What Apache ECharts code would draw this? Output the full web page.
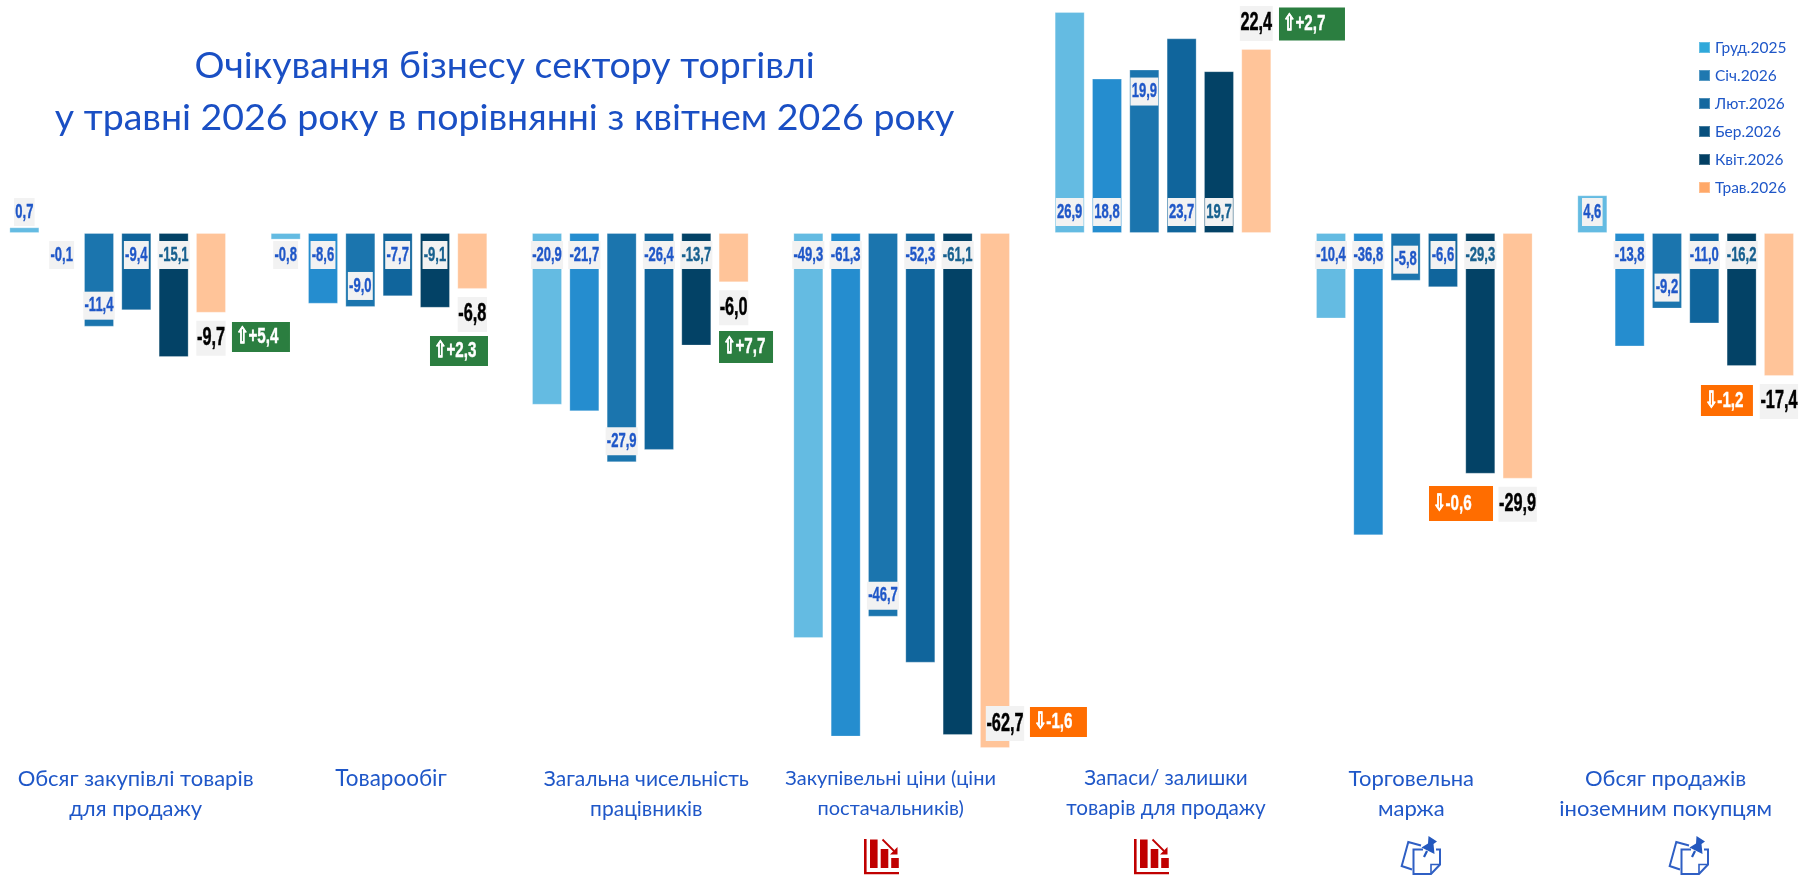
<!DOCTYPE html>
<html><head><meta charset="utf-8">
<style>html,body{margin:0;padding:0;background:#fff}#c{width:1802px;height:877px}</style>
<script src="https://cdn.jsdelivr.net/npm/echarts@6/dist/echarts.min.js"></script>
</head><body><div id="c"></div>
<script>
const categories = ['Обсяг закупівлі товарів\nдля продажу','Товарообіг','Загальна чисельність\nпрацівників','Закупівельні ціни (ціни\nпостачальників)','Запаси/ залишки\nтоварів для продажу','Торговельна\nмаржа','Обсяг продажів\nіноземним покупцям'];
const seriesNames = ['Груд.2025','Січ.2026','Лют.2026','Бер.2026','Квіт.2026','Трав.2026'];
const dec2025 = [0.7,-0.8,-20.9,-49.3,26.9,-10.4,4.6];
const jan2026 = [-0.1,-8.6,-21.7,-61.3,18.8,-36.8,-13.8];
const feb2026 = [-11.4,-9.0,-27.9,-46.7,19.9,-5.8,-9.2];
const mar2026 = [-9.4,-7.7,-26.4,-52.3,23.7,-6.6,-11.0];
const apr2026 = [-15.1,-9.1,-13.7,-61.1,19.7,-29.3,-16.2];
const may2026 = [-9.7,-6.8,-6.0,-62.7,22.4,-29.9,-17.4];
const deltas = [5.4,2.3,7.7,-1.6,2.7,-0.6,-1.2];

const allValues = [dec2025,jan2026,feb2026,mar2026,apr2026,may2026];
const barColors = ['#64BBE2','#258DCF','#1B75AE','#10659C','#034266','#FFC499'];
const legendColors = ['#2FA8DA','#1F78B0','#14689F','#07507E','#023F63','#FFA868'];
const BLUE='#1F57C8', FONT='Lato, "Noto Sans", sans-serif', NARROW='"Liberation Sans", sans-serif';
const PITCH=37.33;
const fmt=v=>v.toFixed(1).replace('.',',');

const chart=echarts.init(document.getElementById('c'));
const series=allValues.map((vals,s)=>({
  name:seriesNames[s],type:'bar',barWidth:30,barGap:'24.4%',
  itemStyle:{color:barColors[s],borderColor:'rgba(255,255,255,0.25)',borderWidth:1},
  data:vals
}));

// value labels: condensed face obtained by scaling the text horizontally
const labelData=[];
allValues.forEach((vals,s)=>vals.forEach((v,c)=>labelData.push([c,v,s])));
series.push({type:'custom',silent:true,z:6,data:labelData,encode:{x:0,y:1},
  renderItem:(p,api)=>{
    const c=api.value(0),v=api.value(1),s=api.value(2);
    const zero=api.coord([c,0]),end=api.coord([c,v]);
    const x=zero[0]+(s-2.5)*PITCH;
    let y,dx=0;
    if(s===5){
      if(c===3){y=end[1]-24.5;dx=10;}
      else y=end[1]+(v>=0?-25.5:25.5);
      return {type:'text',x:x+dx,y,scaleX:.65,style:{x:0,y:0,text:fmt(v),align:'center',verticalAlign:'middle',fill:'#000',stroke:'#000',lineWidth:.5,font:'bold 25px '+NARROW,lineHeight:35,backgroundColor:'#F2F2F2',padding:[0,1]}};
    }
    if(s===2&&c===4) y=end[1]+22;
    else if(s===2&&v<0) y=end[1]-21;
    else y=zero[1]+(v>=0?-21:22);
    const col=s===4?'#17608F':BLUE;
    return {type:'text',x,y,scaleX:.62,style:{x:0,y:0,text:fmt(v),align:'center',verticalAlign:'middle',fill:col,stroke:col,lineWidth:.4,font:'bold 21px '+NARROW,lineHeight:28,backgroundColor:'#F2F2F2',padding:[0,2]}};
  }});

// change badges: offset from the May bar end, box size
const badgeDx=[143.3,80,105.7,156.8,149,36.7,41.3];
const badgeDy=[24.3,62.1,64.7,-26.1,-25,24.9,24.6];
const badgeW=[58,58,54,57,66,64,52];
const badgeH=[30,30,32,30,33,35,31];
series.push({type:'custom',silent:true,z:5,data:deltas.map((d,i)=>[i,may2026[i],d]),encode:{x:0,y:1},
  renderItem:(p,api)=>{
    const i=api.value(0),d=api.value(2),c=api.coord([i,api.value(1)]);
    const cx=c[0]+badgeDx[i],cy=c[1]+badgeDy[i],w=badgeW[i],h=badgeH[i];
    return {type:'group',children:[
      {type:'rect',shape:{x:cx-w/2,y:cy-h/2,width:w,height:h},style:{fill:d>0?'#2B7E40':'#FF6D00'}},
      {type:'text',x:cx-w/2+4,y:cy,scaleX:.69,style:{x:0,y:0,align:'left',verticalAlign:'middle',text:(d>0?'⇧+':'⇩')+fmt(d),fill:'#fff',stroke:'#fff',lineWidth:.4,font:'bold 22px '+NARROW}}
    ]};
  }});

const shift=[18,12,6,-11,3,-13,-20];
const catFont=[22,22.5,21,20,20.7,22,22];
const rich={};shift.forEach((s,i)=>{rich['a'+i]={fontFamily:FONT,fontSize:catFont[i],color:BLUE,lineHeight:30,padding:s>0?[0,0,0,2*s]:[0,-2*s,0,0]};});

const red='#C00000',pin='#2F5FC4';
const barsIcon=x=>({type:'group',x,y:839,children:[
  {type:'rect',shape:{x:0,y:0,width:2.6,height:35},style:{fill:red}},
  {type:'rect',shape:{x:0,y:33,width:35,height:2.2},style:{fill:red}},
  {type:'rect',shape:{x:6,y:.5,width:7.6,height:28.5},style:{fill:red}},
  {type:'rect',shape:{x:16.7,y:10,width:7.6,height:19},style:{fill:red}},
  {type:'rect',shape:{x:27.2,y:19,width:7.6,height:10},style:{fill:red}},
  {type:'polyline',shape:{points:[[18.5,.5],[30,12]]},style:{stroke:red,lineWidth:1.8,fill:'none'}},
  {type:'polygon',shape:{points:[[33.5,15.5],[33.5,8],[26,15.5]]},style:{fill:red}}
]});
const noteIcon=x=>({type:'group',x,y:830,children:[
  {type:'polyline',shape:{points:[[26,15.5],[13.3,12],[6.7,36],[17,39.5]]},style:{stroke:pin,lineWidth:2,fill:'none'}},
  {type:'polyline',shape:{points:[[28,19.5],[18.5,19.5],[18.5,44],[36,44],[45,34.5],[45,19.5],[41,19.5]]},style:{stroke:pin,lineWidth:2,fill:'none'}},
  {type:'polyline',shape:{points:[[36,44],[36,34.5],[45,34.5]]},style:{stroke:pin,lineWidth:1.6,fill:'none'}},
  {type:'polygon',shape:{points:[[33.5,6],[42,11.5],[38.5,14],[39.5,24],[26.5,17.5],[33,13.5]]},style:{fill:'#2458BE'}},
  {type:'polyline',shape:{points:[[32,21],[29,27]]},style:{stroke:'#2458BE',lineWidth:2.2,fill:'none'}}
]});

chart.setOption({animation:false,backgroundColor:'#fff',
  title:{text:'Очікування бізнесу сектору торгівлі\nу травні 2026 року в порівнянні з квітнем 2026 року',left:499.6,top:35,textAlign:'center',textStyle:{fontFamily:FONT,fontWeight:400,fontSize:37.5,lineHeight:52,color:'#1A4FC4'}},
  legend:{orient:'vertical',left:1693,top:33,itemWidth:11,itemHeight:11,itemGap:9,icon:'rect',
    data:seriesNames.map((n,i)=>({name:n,itemStyle:{color:legendColors[i]}})),
    textStyle:{fontFamily:FONT,fontSize:15.5,lineHeight:19,color:BLUE}},
  grid:{left:-13,width:1829.3,top:3,height:755.8,outerBoundsMode:'none'},
  xAxis:{type:'category',data:categories,position:'bottom',axisLine:{show:false,onZero:false},axisTick:{show:false},
    axisLabel:{interval:0,margin:5,hideOverlap:false,rich,formatter:(v,i)=>v.split('\n').map(l=>`{a${i}|${l}}`).join('\n')}},
  yAxis:{type:'value',min:-64,max:28,show:false,splitLine:{show:false}},
  graphic:[barsIcon(864),barsIcon(1134),noteIcon(1395),noteIcon(1663)],
  series
});
</script></body></html>
